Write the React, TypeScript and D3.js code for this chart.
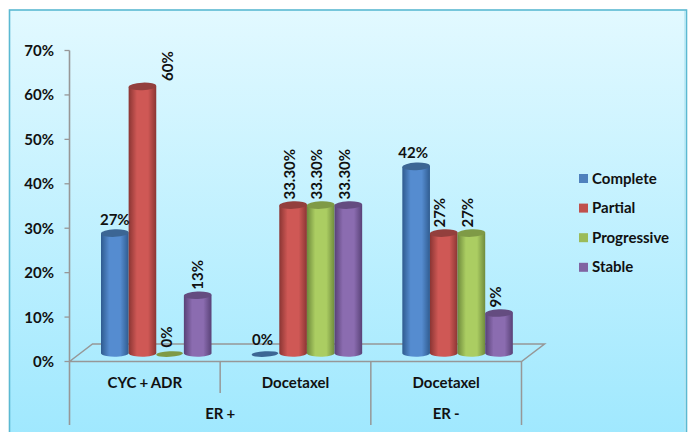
import React from "react";
import * as d3 from "d3";

const regimens = ["CYC + ADR", "Docetaxel", "Docetaxel "];
const receptorGroups = ["ER +", "ER -"];
const seriesNames = ["Complete", "Partial", "Progressive", "Stable"];
const complete = [27, 0, 42];
const partial = [60, 33.3, 27];
const progressive = [0, 33.3, 27];
const stable = [13, 33.3, 9];
const seriesValues = [complete, partial, progressive, stable];
const valueLabels = [
  ["27%", "0%", "42%"],
  ["60%", "33.30%", "27%"],
  ["0%", "33.30%", "27%"],
  ["13%", "33.30%", "9%"],
];
const yTicks = [0, 10, 20, 30, 40, 50, 60, 70];

const palette = [
  { edge: "#2f5b8f", mid: "#558cd0", cap: "#3c6694", key: "#4f81bd" },
  { edge: "#8a3533", mid: "#cf5855", cap: "#933f3d", key: "#c0504d" },
  { edge: "#6e8a3c", mid: "#abcd62", cap: "#7f9a46", key: "#9bbb59" },
  { edge: "#584176", mid: "#8b6cb0", cap: "#644c80", key: "#8064a2" },
];

const FONT = "Lato, 'Open Sans', sans-serif";
const AXIS = "#979797";
const TEXT = "#111";

const yAxis = d3.scaleLinear().domain([0, 70]).range([361.5, 50.5]);
const groupX = d3.scaleBand<string>().domain(regimens).range([69.5, 521.5]);
const barX = d3.scaleBand<string>().domain(seriesNames).range([0, 110.5]);

const DEPTH_X = 23;
const DEPTH_Y = 17.5;
const BAR_OFFSET = 31.5;
const BAR_LIFT = 8;
const RY = 3.8;

// Complete labels sit flat above the bar; the rest read bottom to top.
const isHorizontal = (s: number) => s === 0;
const labelShift = (s: number, g: number) => {
  if (s === 1 && g === 0) return 25;
  if (g === 0 && (s === 0 || s === 3)) return 0;
  return isHorizontal(s) ? -3 : -4;
};

function Cylinder({ s, g }: { s: number; g: number }) {
  const v = seriesValues[s][g];
  const x0 = groupX(regimens[g])! + BAR_OFFSET + barX(seriesNames[s])!;
  const w = barX.bandwidth();
  const rx = w / 2;
  const cx = x0 + rx;
  const top = yAxis(v) - BAR_LIFT;
  const base = yAxis(0) - BAR_LIFT;
  if (v === 0) {
    return (
      <ellipse cx={cx - 0.5} cy={base + 0.5} rx={rx - 0.5} ry={2.8} fill={palette[s].cap}
        transform={`rotate(-3 ${cx} ${base})`} />
    );
  }
  const body = `M${x0},${top} L${x0},${base} A${rx},${RY} 0 0 0 ${x0 + w},${base - 1} L${x0 + w},${top - 1} Z`;
  return (
    <g>
      <path d={body} fill={`url(#bar${s})`} />
      <ellipse cx={cx} cy={top - 0.5} rx={rx} ry={RY} fill={palette[s].cap}
        transform={`rotate(-2.5 ${cx} ${top})`} />
    </g>
  );
}

function ValueLabel({ s, g }: { s: number; g: number }) {
  const v = seriesValues[s][g];
  const x0 = groupX(regimens[g])! + BAR_OFFSET + barX(seriesNames[s])!;
  const cx = x0 + barX.bandwidth() / 2 + labelShift(s, g);
  const top = yAxis(v) - BAR_LIFT;
  const txt = valueLabels[s][g];
  if (isHorizontal(s)) {
    return (
      <text x={cx} y={top - 8.5} textAnchor="middle" fontSize={15} fontWeight={700} fill={TEXT}>{txt}</text>
    );
  }
  return (
    <text transform={`translate(${cx + 5.5},${top - 6}) rotate(-90)`} fontSize={15} fontWeight={700} fill={TEXT}>{txt}</text>
  );
}

export default function App() {
  const floorY = yAxis(0);
  const left = groupX.range()[0];
  const right = groupX.range()[1];
  const floor = d3.line()([
    [left, floorY],
    [left + DEPTH_X, floorY - DEPTH_Y],
    [right + DEPTH_X, floorY - DEPTH_Y],
    [right, floorY],
    [left, floorY],
  ])!;
  const pairs = regimens.flatMap((_, g) => seriesNames.map((_, s) => ({ s, g })));
  return (
    <svg width={694} height={432} style={{ position: "absolute", left: 0, top: 0, fontFamily: FONT }}>
      <defs>
        <linearGradient id="panel" x1="0" y1="0" x2="0" y2="1">
          <stop offset="0" stopColor="#e2f9ff" />
          <stop offset="1" stopColor="#9fe8fe" />
        </linearGradient>
        {palette.map((c, i) => (
          <linearGradient key={i} id={`bar${i}`} x1="0" y1="0" x2="1" y2="0">
            <stop offset="0" stopColor={c.edge} />
            <stop offset="0.3" stopColor={c.mid} />
            <stop offset="0.7" stopColor={c.mid} />
            <stop offset="1" stopColor={c.edge} />
          </linearGradient>
        ))}
      </defs>
      <rect width={694} height={432} fill="#fff" />
      <rect x={9.5} y={10} width={677} height={430} fill="url(#panel)" stroke="#5bb9d2" strokeWidth={1.6} />
      <line x1={685} x2={685} y1={11} y2={432} stroke="#b5e6f2" strokeWidth={1.4} />

      <path d={floor} fill="none" stroke={AXIS} strokeWidth={1.5} />

      <line x1={left} x2={left} y1={yAxis(70)} y2={425} stroke={AXIS} strokeWidth={1.6} />
      {yTicks.map((t) => (
        <g key={t}>
          <line x1={left - 5} x2={left} y1={yAxis(t)} y2={yAxis(t)} stroke={AXIS} strokeWidth={1.3} />
          <text x={54} y={yAxis(t) + 5.5} textAnchor="end" fontSize={15} fontWeight={700} fill={TEXT}>{t}%</text>
        </g>
      ))}

      {regimens.map((r, g) => {
        const x = groupX(r)!;
        const end = x + groupX.bandwidth();
        return (
          <g key={r}>
            <line x1={end} x2={end} y1={floorY} y2={g === 0 ? 393 : 425} stroke={AXIS} strokeWidth={1.5} />
            <text x={x + groupX.bandwidth() / 2} y={388} textAnchor="middle" fontSize={15} fontWeight={700}
              wordSpacing={-0.6} fill={TEXT}>{r.trim()}</text>
          </g>
        );
      })}
      {receptorGroups.map((label, i) => {
        const first = i === 0 ? groupX(regimens[0])! : groupX(regimens[2])!;
        const span = groupX.bandwidth() * (i === 0 ? 2 : 1);
        return (
          <text key={label} x={first + span / 2} y={419} textAnchor="middle" fontSize={15} fontWeight={700}
            wordSpacing={-0.6} fill={TEXT}>{label}</text>
        );
      })}

      {pairs.map(({ s, g }) => <Cylinder key={`${s}-${g}`} s={s} g={g} />)}
      {pairs.map(({ s, g }) => <ValueLabel key={`${s}-${g}`} s={s} g={g} />)}

      {seriesNames.map((name, i) => {
        const y = 178.5 + i * 29.6;
        return (
          <g key={name}>
            <rect x={579} y={y - 4.5} width={9} height={9} fill={palette[i].key} />
            <text x={592} y={y + 5} fontSize={15} fontWeight={700} fill={TEXT}>{name}</text>
          </g>
        );
      })}
    </svg>
  );
}
